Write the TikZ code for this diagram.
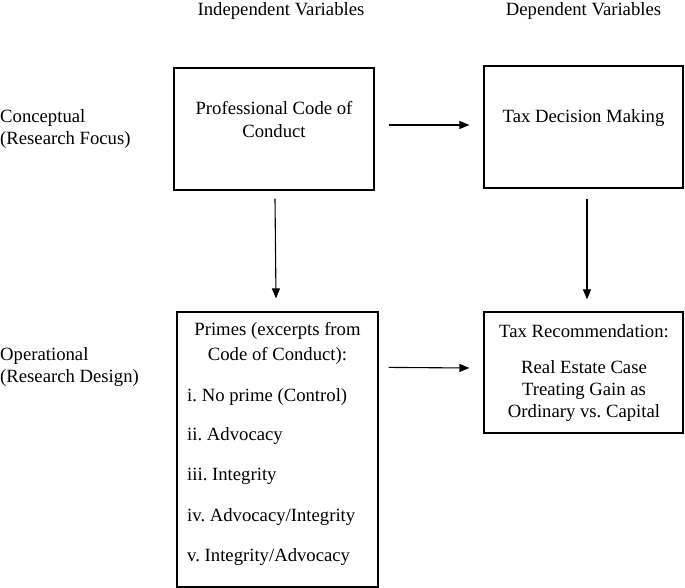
\documentclass[tikz,border=0pt]{standalone}
\usepackage{fontspec}
\setmainfont{Liberation Serif}
\frenchspacing
\usetikzlibrary{arrows.meta}
\tikzset{
  box/.style={draw, line width=1.2pt, inner sep=0pt},
  txt/.style={inner sep=0pt, anchor=base, font=\fontsize{18.7pt}{23pt}\selectfont},
  ltxt/.style={txt, anchor=base west},
  arr/.style={line width=1.1pt, -{Triangle[length=10pt,width=8pt]}}
}
\begin{document}
\begin{tikzpicture}[x=1pt,y=-1pt]
\useasboundingbox (0,0) rectangle (685,588);

% headers
\node[txt] (hind) at (281,16) {Independent Variables};
\node[txt] (hdep) at (583.5,16) {Dependent Variables};

% row labels
\node[ltxt] (conc1) at (0,123) {Conceptual};
\node[ltxt] (conc2) at (0,145) {(Research Focus)};
\node[ltxt] (oper1) at (0,360) {Operational};
\node[ltxt] (oper2) at (0,382) {(Research Design)};

% boxes
\node[box, minimum width=200pt, minimum height=122pt] (b1) at (274,129) {};
\node[box, minimum width=199pt, minimum height=122pt] (b2) at (583.5,127) {};
\node[box, minimum width=201pt, minimum height=275pt] (b3) at (277.5,449.5) {};
\node[box, minimum width=199pt, minimum height=121pt] (b4) at (583.5,372.5) {};

% box texts
\node[txt] (t1a) at (274,115) {Professional Code of};
\node[txt] (t1b) at (274,138) {Conduct};
\node[txt] (t2) at (583.5,123) {Tax Decision Making};

\node[txt] (t3a) at (277.5,335) {Primes (excerpts from};
\node[txt] (t3b) at (277.5,360) {Code of Conduct):};
\node[ltxt] (t3c) at (187,401) {i. No prime (Control)};
\node[ltxt] (t3d) at (187,440) {ii. Advocacy};
\node[ltxt] (t3e) at (187,480) {iii. Integrity};
\node[ltxt] (t3f) at (187,521) {iv. Advocacy/Integrity};
\node[ltxt] (t3g) at (187,561) {v. Integrity/Advocacy};

\node[txt] (t4a) at (584,337) {Tax Recommendation:};
\node[txt] (t4b) at (584,373) {Real Estate Case};
\node[txt] (t4c) at (584,395) {Treating Gain as};
\node[txt] (t4d) at (584,417) {Ordinary vs. Capital};

% connectors
\draw[arr] ([xshift=14pt,yshift=4pt]b1.east) -- ([xshift=-14pt,yshift=2pt]b2.west);
\draw[arr] ([xshift=10pt,yshift=-56pt]b3.north east) -- ([xshift=-14pt,yshift=4.5pt]b4.west);
\draw[arr] ([xshift=1pt,yshift=-8pt]b1.south) -- ([xshift=-1.5pt,yshift=13pt]b3.north);
\draw[arr] ([xshift=3.5pt,yshift=-10pt]b2.south) -- ([xshift=3.5pt,yshift=12pt]b4.north);
\end{tikzpicture}
\end{document}
